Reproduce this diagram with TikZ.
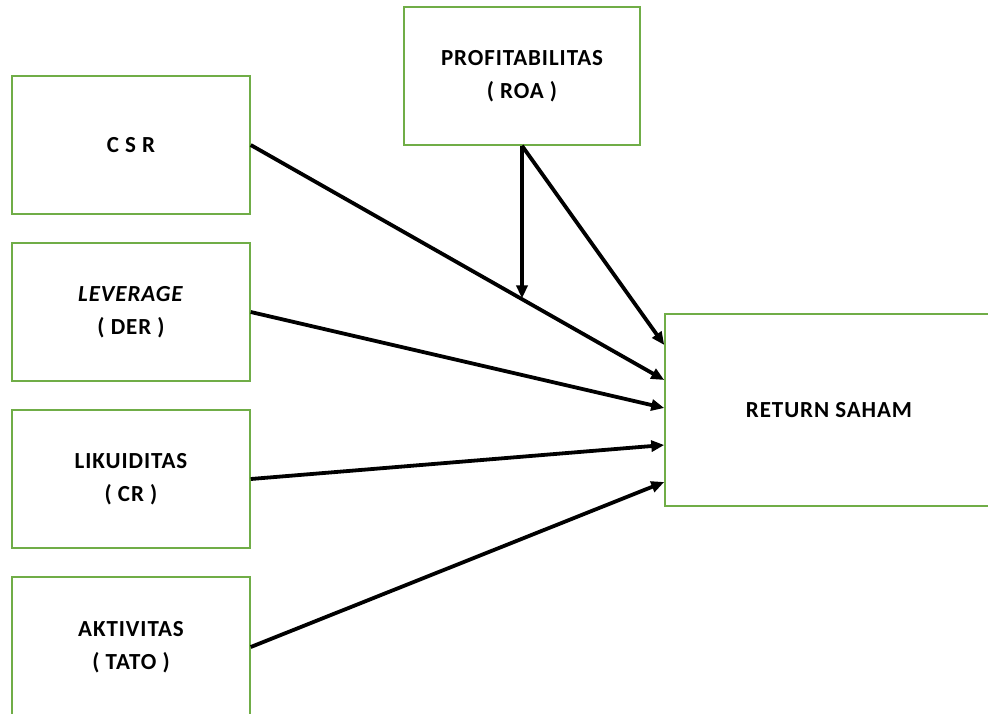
\documentclass[tikz,border=0pt]{standalone}
\usepackage{fontspec}
\setmainfont{Carlito}[LetterSpace=4]
\usetikzlibrary{arrows.meta,calc}
\definecolor{boxgreen}{RGB}{112,173,71}
\begin{document}
\begin{tikzpicture}[x=1pt,y=-1pt,
  box/.style={draw=boxgreen,line width=1.5pt,rectangle,inner sep=0pt,align=center,
    font=\bfseries\fontsize{23}{33}\selectfont},
  conn/.style={line width=3.8pt,-{Triangle[length=13pt,width=11pt]}}]
\useasboundingbox (0,0) rectangle (988,713);
\clip (0,0) rectangle (988,713);
\fill[white] (0,0) rectangle (988,713);
\node[box,minimum width=238pt,minimum height=138pt] (csr) at (131,145) {C S R};
\node[box,minimum width=238pt,minimum height=138pt] (lev) at (131,312) {\textit{LEVERAGE}\\( DER )};
\node[box,minimum width=238pt,minimum height=138pt] (cr) at (131,479) {LIKUIDITAS\\( CR )};
\node[box,minimum width=238pt,minimum height=140pt] (tato) at (131,647) {AKTIVITAS\\( TATO )};
\node[box,minimum width=236pt,minimum height=138pt] (roa) at (522,76) {PROFITABILITAS\\( ROA )};
\node[box,minimum width=328pt,minimum height=192pt] (ret) at (829,410) {RETURN SAHAM};
\coordinate (r1) at ($(ret.west)+(0,-65)$);
\coordinate (r2) at ($(ret.west)+(0,-30)$);
\coordinate (r3) at ($(ret.west)+(0,-2)$);
\coordinate (r4) at ($(ret.west)+(0,35)$);
\coordinate (r5) at ($(ret.west)+(0,72)$);
\coordinate (m) at ($(csr.east)!0.653!(r2)$);
\draw[conn] (csr.east) -- (r2);
\draw[conn] (lev.east) -- (r3);
\draw[conn] (cr.east) -- (r4);
\draw[conn] (tato.east) -- (r5);
\draw[conn] (roa.south) -- (roa.south |- m);
\draw[conn] (roa.south) -- (r1);
\end{tikzpicture}
\end{document}
